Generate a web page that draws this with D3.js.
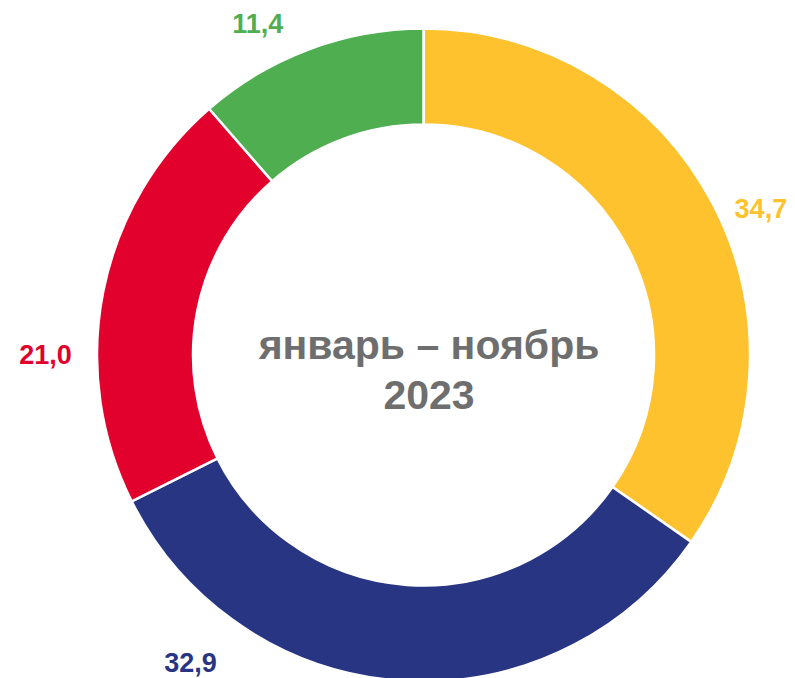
<!DOCTYPE html>
<html>
<head>
<meta charset="utf-8">
<script src="https://cdn.jsdelivr.net/npm/d3@7"></script>
<style>
  body { margin: 0; background: #fff; }
  svg { display: block; font-family: "Liberation Sans", Arial, sans-serif; }
</style>
</head>
<body>
<svg id="chart" width="795" height="678"></svg>
<script>
// данные диаграммы
var categories = ["Категория 1", "Категория 2", "Категория 3", "Категория 4"];
var values = [34.7, 32.9, 21.0, 11.4];
var valueLabels = ["34,7", "32,9", "21,0", "11,4"];
var colors = ["#FEC22E", "#283583", "#E2002D", "#4FAE50"];
var centerLines = ["январь – ноябрь", "2023"];

var width = 795, height = 678;
var cx = 423.5, cy = 355;
var outerR = 326.5, innerR = 230.5;

var svg = d3.select("#chart");
var g = svg.append("g").attr("transform", "translate(" + cx + "," + cy + ")");

var pie = d3.pie().sort(null).value(function(d){ return d; });
var arcs = pie(values);

var arc = d3.arc().innerRadius(innerR).outerRadius(outerR);

g.selectAll("path")
  .data(arcs)
  .enter()
  .append("path")
  .attr("d", arc)
  .attr("fill", function(d, i){ return colors[i]; })
  .attr("stroke", "#fff")
  .attr("stroke-width", 2.5);

// подписи значений: от середины сектора, со сдвигом как в оригинале
var labelShift = [4, 33, -11, -6];     // градусы
var labelRadius = [368, 386, 378, 371];
g.selectAll("text.val")
  .data(arcs)
  .enter()
  .append("text")
  .attr("class", "val")
  .attr("x", function(d, i){
    var a = (d.startAngle + d.endAngle) / 2 + labelShift[i] * Math.PI / 180;
    return Math.sin(a) * labelRadius[i];
  })
  .attr("y", function(d, i){
    var a = (d.startAngle + d.endAngle) / 2 + labelShift[i] * Math.PI / 180;
    return -Math.cos(a) * labelRadius[i];
  })
  .attr("dy", "0.36em")
  .attr("text-anchor", "middle")
  .attr("font-size", 27)
  .attr("font-weight", "bold")
  .attr("fill", function(d, i){ return colors[i]; })
  .text(function(d, i){ return valueLabels[i]; });

// текст в центре
g.selectAll("text.center")
  .data(centerLines)
  .enter()
  .append("text")
  .attr("class", "center")
  .attr("x", 5.5)
  .attr("y", function(d, i){ return 4 + i * 50; })
  .attr("text-anchor", "middle")
  .attr("font-size", 41)
  .attr("font-weight", "bold")
  .attr("fill", "#6E6E6E")
  .text(function(d){ return d; });
</script>
</body>
</html>
